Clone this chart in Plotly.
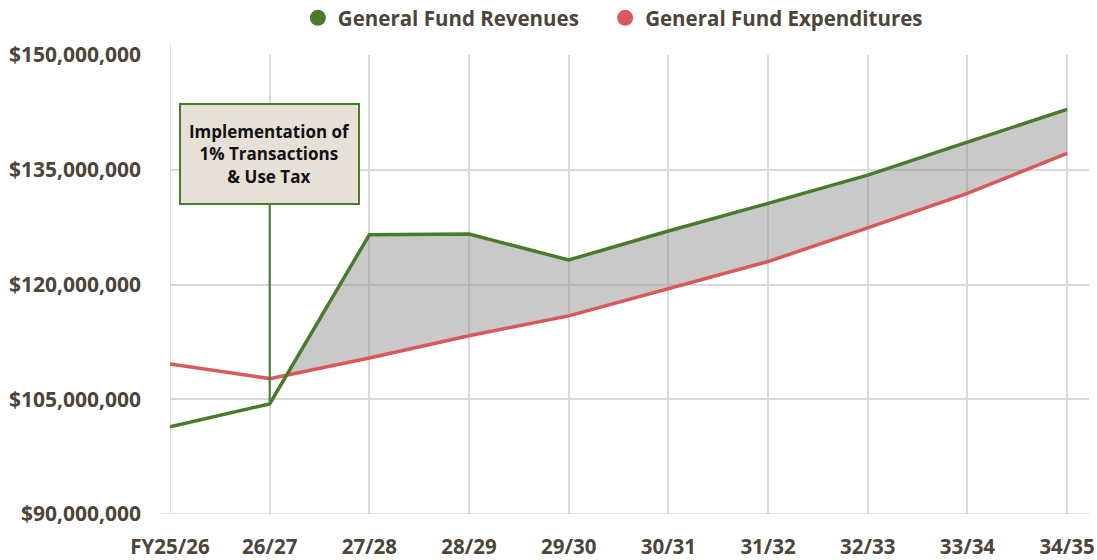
import plotly.graph_objects as go

categories = ["FY25/26", "26/27", "27/28", "28/29", "29/30", "30/31", "31/32", "32/33", "33/34", "34/35"]
revenues = [101.4e6, 104.4e6, 126.5e6, 126.6e6, 123.2e6, 127.0e6, 130.6e6, 134.3e6, 138.6e6, 142.9e6]
expenditures = [109.6e6, 107.7e6, 110.4e6, 113.3e6, 115.9e6, 119.5e6, 123.0e6, 127.4e6, 131.9e6, 137.15e6]
y_ticks = [90e6, 105e6, 120e6, 135e6, 150e6]
y_ticktext = ["$90,000,000", "$105,000,000", "$120,000,000", "$135,000,000", "$150,000,000"]
annotation_text = "Implementation of<br>1% Transactions<br>& Use Tax"

GREEN = "#4a7a2b"
RED = "#d9585b"
TEXT = "#4d443a"
FONT = "Open Sans"

xs = list(range(len(categories)))

# surplus region polygon (where revenues exceed expenditures)
diff = [r - e for r, e in zip(revenues, expenditures)]
start = next(i for i in range(1, len(diff)) if diff[i] > 0 and diff[i - 1] <= 0)
t = -diff[start - 1] / (diff[start] - diff[start - 1])
xc = (start - 1) + t
yc = expenditures[start - 1] + t * (expenditures[start] - expenditures[start - 1])
poly_x = [xc] + xs[start:] + xs[start:][::-1] + [xc]
poly_y = [yc] + revenues[start:] + expenditures[start:][::-1] + [yc]

fig = go.Figure()
fig.add_trace(go.Scatter(x=poly_x, y=poly_y, fill="toself", mode="lines",
                         line=dict(width=0), fillcolor="rgba(140,140,140,0.47)",
                         showlegend=False, hoverinfo="skip"))
fig.add_trace(go.Scatter(x=xs, y=expenditures, mode="lines",
                         line=dict(color=RED, width=3.5), showlegend=False))
fig.add_trace(go.Scatter(x=xs, y=revenues, mode="lines",
                         line=dict(color=GREEN, width=3.5), showlegend=False))
# legend entries with circle markers
fig.add_trace(go.Scatter(x=[None], y=[None], mode="markers",
                         name="General Fund Revenues" + "&nbsp;" * 4,
                         marker=dict(color=GREEN, size=20, symbol="circle")))
fig.add_trace(go.Scatter(x=[None], y=[None], mode="markers", name="General Fund Expenditures",
                         marker=dict(color=RED, size=20, symbol="circle")))

# annotation box
box_center_y = 137.1e6
box_bottom_y = 130.65e6
fig.add_annotation(x=1, y=box_center_y, xref="x", yref="y", text=annotation_text,
                   showarrow=False, align="center",
                   font=dict(family=FONT, size=17, color="#111111", weight="bold"),
                   bgcolor="#e6e0d6", bordercolor=GREEN, borderwidth=2, borderpad=2,
                   width=173, height=94)
fig.add_shape(type="line", x0=1, x1=1, y0=box_bottom_y, y1=revenues[1], xref="x", yref="y",
              line=dict(color=GREEN, width=2), layer="above")

# axis line extension at bottom and left
fig.add_shape(type="line", xref="paper", yref="y", x0=-0.011, x1=1, y0=90e6, y1=90e6,
              line=dict(color="#d9d9d9", width=1.5), layer="below")
fig.add_shape(type="line", xref="x", yref="paper", x0=0, x1=0, y0=0, y1=1.025,
              line=dict(color="#d9d9d9", width=1.5), layer="below")

fig.update_layout(
    width=1097, height=560,
    margin=dict(l=170, r=8, t=55, b=46, autoexpand=False),
    plot_bgcolor="white", paper_bgcolor="white",
    font=dict(family=FONT, size=20, color=TEXT),
    showlegend=True,
    legend=dict(orientation="h", x=0.4819, y=1.0806, xanchor="center", yanchor="middle",
                font=dict(family=FONT, size=20.5, color=TEXT, weight="bold"),
                itemsizing="trace", bgcolor="rgba(0,0,0,0)"),
    xaxis=dict(range=[0, 9.22], tickmode="array", tickvals=xs, ticktext=categories,
               showgrid=True, gridcolor="#d9d9d9", gridwidth=1.5, zeroline=False,
               showline=False, ticks="", ticklabelstandoff=18,
               tickfont=dict(family=FONT, size=20.5, color=TEXT, weight="bold")),
    yaxis=dict(range=[90e6, 150e6], tickmode="array", tickvals=y_ticks, ticktext=y_ticktext,
               showgrid=True, gridcolor="#d9d9d9", gridwidth=1.5, zeroline=False,
               showline=False, ticks="", ticklabelstandoff=28,
               tickfont=dict(family=FONT, size=21, color=TEXT, weight="bold")),
)

fig.write_html("out.html", config={"displayModeBar": False},
               post_script="document.body.style.margin='0';")
